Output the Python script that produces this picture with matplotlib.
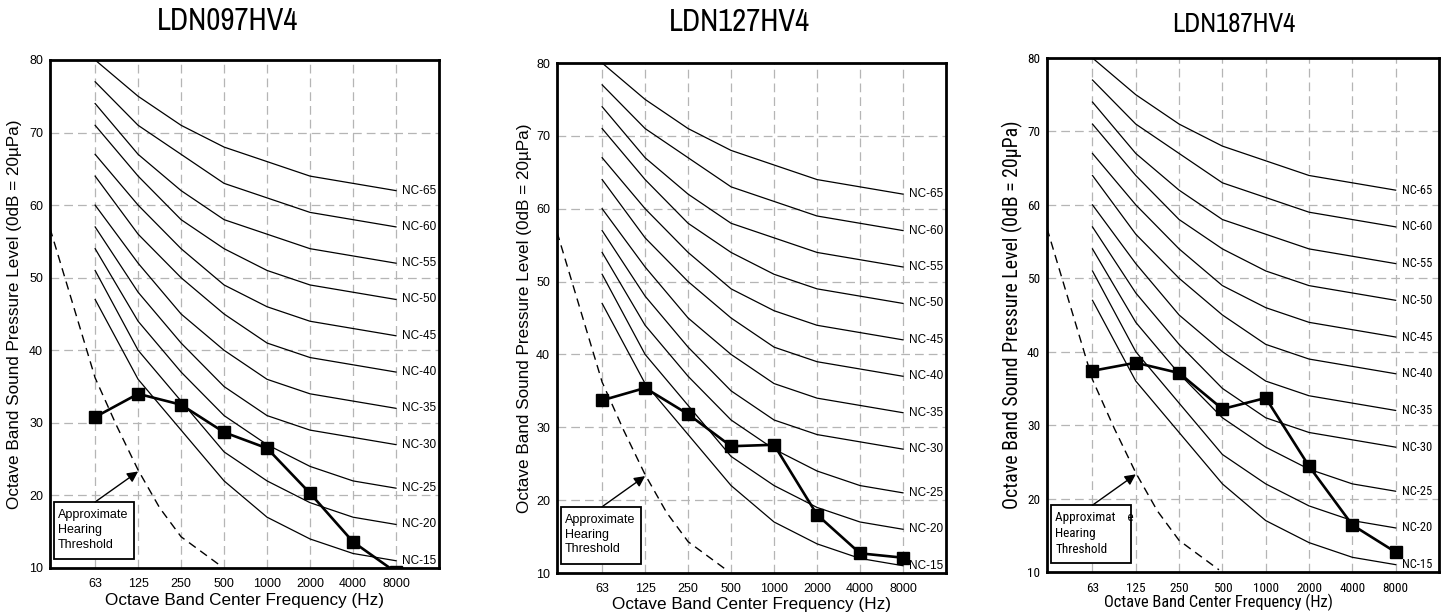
import matplotlib
matplotlib.use("Agg")
import matplotlib.pyplot as plt
from matplotlib.patches import Rectangle

# ---------------- data ----------------
freq_labels = ["63", "125", "250", "500", "1000", "2000", "4000", "8000"]
nc_names = ["NC-65", "NC-60", "NC-55", "NC-50", "NC-45", "NC-40",
            "NC-35", "NC-30", "NC-25", "NC-20", "NC-15"]
nc_65 = [80, 75, 71, 68, 66, 64, 63, 62]
nc_60 = [77, 71, 67, 63, 61, 59, 58, 57]
nc_55 = [74, 67, 62, 58, 56, 54, 53, 52]
nc_50 = [71, 64, 58, 54, 51, 49, 48, 47]
nc_45 = [67, 60, 54, 49, 46, 44, 43, 42]
nc_40 = [64, 56, 50, 45, 41, 39, 38, 37]
nc_35 = [60, 52, 45, 40, 36, 34, 33, 32]
nc_30 = [57, 48, 41, 35, 31, 29, 28, 27]
nc_25 = [54, 44, 37, 31, 27, 24, 22, 21]
nc_20 = [51, 40, 33, 26, 22, 19, 17, 16]
nc_15 = [47, 36, 29, 22, 17, 14, 12, 11]
nc_curves = [nc_65, nc_60, nc_55, nc_50, nc_45, nc_40,
             nc_35, nc_30, nc_25, nc_20, nc_15]

# approximate hearing threshold (band index position, level)
thr_pos = [-1.05, -0.5, 0, 0.5, 1, 1.5, 2, 2.92]
thr_lvl = [56.8, 46.0, 36.2, 29.6, 23.5, 18.3, 14.3, 10.3]

titles = ["LDN097HV4", "LDN127HV4", "LDN187HV4"]
ldn097 = [30.8, 34.0, 32.5, 28.7, 26.5, 20.3, 13.6, 9.4]
ldn127 = [33.7, 35.4, 31.8, 27.4, 27.6, 18.0, 12.7, 12.1]
ldn187 = [37.4, 38.5, 37.1, 32.2, 33.7, 24.4, 16.4, 12.7]
series = [ldn097, ldn127, ldn187]
box_texts = ["Approximate\nHearing\nThreshold",
             "Approximate\nHearing\nThreshold",
             "Approximat    e\nHearing\nThreshold"]

ylabel = "Octave Band Sound Pressure Level (0dB = 20\u00b5Pa)"
xlabel = "Octave Band Center Frequency (Hz)"

# ---------------- layout ----------------
W, H = 1449, 613
fig = plt.figure(figsize=(W / 100, H / 100), dpi=100)

def px_axes(l, r, t, b):
    return fig.add_axes([l / W, 1 - b / H, (r - l) / W, (b - t) / H])

boxes = [(50, 439, 60, 568), (557, 946, 63, 573), (1047, 1439, 58, 572)]
arial = ["Liberation Sans", "DejaVu Sans"]
cond = ["Roboto Condensed", "Liberation Sans", "DejaVu Sans"]
title_fam = ["Pragati Narrow", "Roboto Condensed", "DejaVu Sans"]
fams = [arial, arial, cond]
title_xy = [(228, 21), (739, 22), (1234, 25)]
title_fs = [24, 24, 21]
ylab_off = [35, 32, 35]
xlab_off = [32, 31, 30]
xlab_dx = [0, 0, -25]
ylab_fs = [12.3, 12.3, 14.3]
xlab_fs = [12.3, 12.3, 11.8]
tick_fs = [9, 9, 9.5]
nc_fs = [8.5, 8.5, 9]
box_fs = [9, 9, 9.5]

xs = list(range(len(freq_labels)))

for i, (l, r, t, b) in enumerate(boxes):
    ax = px_axes(l, r, t, b)
    fam = fams[i]
    ax.set_xlim(-1.05, 8)
    ax.set_ylim(10, 80)
    ax.set_xticks(xs)
    ax.set_xticklabels(freq_labels, family=fam, fontsize=tick_fs[i])
    ax.set_yticks(range(10, 81, 10))
    ax.set_yticklabels([str(v) for v in range(10, 81, 10)], family=fam,
                       fontsize=tick_fs[i])
    ax.tick_params(length=0, pad=5)
    ax.tick_params(axis="x", pad=7)
    for s in ax.spines.values():
        s.set_linewidth(2.0)
        s.set_color("black")
    # grid
    for x in xs:
        ax.axvline(x, color="#b5b5b5", lw=0.9, ls=(0, (7, 4)), zorder=1)
    for y in range(20, 80, 10):
        ax.axhline(y, color="#b5b5b5", lw=0.9, ls=(0, (7, 4)), zorder=1)
    # NC curves
    for name, vals in zip(nc_names, nc_curves):
        ax.plot(xs, vals, color="black", lw=0.9, zorder=2)
        ax.text(7.15, vals[-1], name, ha="left", va="center",
                fontsize=nc_fs[i], family=fam, zorder=3)
    # hearing threshold
    ax.plot(thr_pos, thr_lvl, color="black", lw=1.0, ls=(0, (6, 4)), zorder=2)
    # data
    ax.plot(xs, series[i], color="black", lw=1.9, marker="s", ms=8.5,
            markerfacecolor="black", zorder=4)
    # annotation box
    ax.add_patch(Rectangle((-0.95, 11.25), 1.85, 7.85, facecolor="white",
                           edgecolor="black", lw=1.3, zorder=5))
    ax.text(-0.86, 15.25, box_texts[i], ha="left", va="center",
            fontsize=box_fs[i], family=fam, linespacing=1.3, zorder=6)
    ax.annotate("", xy=(1.0, 23.3), xytext=(0.0, 19.1),
                arrowprops=dict(arrowstyle="-|>", color="black", lw=1.0,
                                mutation_scale=16, shrinkA=0, shrinkB=0),
                zorder=6)
    # labels
    wpx, hpx = r - l, b - t
    ax.text(-ylab_off[i] / wpx, 0.5, ylabel, rotation=90, ha="center",
            va="center", transform=ax.transAxes, fontsize=ylab_fs[i], family=fam)
    ax.text(0.5 + xlab_dx[i] / wpx, -xlab_off[i] / hpx, xlabel, ha="center",
            va="center", transform=ax.transAxes, fontsize=xlab_fs[i], family=fam)
    tx, ty = title_xy[i]
    fig.text(tx / W, 1 - ty / H, titles[i], ha="center", va="center",
             fontsize=title_fs[i], family=title_fam)

fig.savefig("out.png", dpi=100)
